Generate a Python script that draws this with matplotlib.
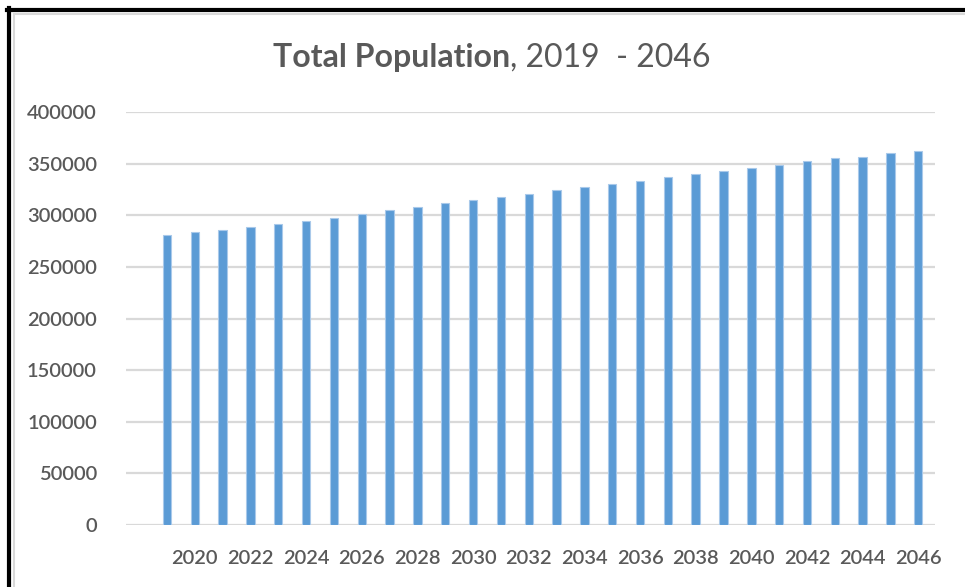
import matplotlib
matplotlib.use("Agg")
import matplotlib.pyplot as plt
from matplotlib.lines import Line2D

# total population by year
years = list(range(2019, 2047))
population = [280500, 283800, 285400, 288400, 291600, 294800, 297700, 300900,
              305500, 308400, 311600, 314500, 317700, 321000, 324000, 327200,
              330400, 333300, 336600, 339800, 342700, 345600, 348900, 352100,
              355000, 356600, 359900, 362600]
tick_years = list(range(2020, 2047, 2))
y_ticks = [0, 50000, 100000, 150000, 200000, 250000, 300000, 350000, 400000]

plt.rcParams['font.family'] = ['Lato', 'DejaVu Sans']
txt = '#595959'
grid = '#d9d9d9'

W, H = 965, 587
fig = plt.figure(figsize=(W / 100, H / 100), dpi=100)
ax = fig.add_axes([126 / W, (H - 525) / H, (935 - 126) / W, (525 - 112) / H])

pos = list(range(len(years)))
ax.bar(pos, population, width=0.3, color='#5b9bd5', edgecolor='#a9c9ea',
       linewidth=0.8, zorder=3)

ax.set_xlim(-1.47, 27.6)
ax.set_ylim(0, 400000)
ax.set_yticks(y_ticks)
ax.set_yticklabels([str(v) for v in y_ticks])
ax.set_xticks([years.index(y) for y in tick_years])
ax.set_xticklabels([str(y) for y in tick_years])

ax.grid(axis='y', color=grid, linewidth=1.6, zorder=0)
for s in ax.spines.values():
    s.set_visible(False)
ax.tick_params(axis='both', length=0, labelsize=14.5, labelcolor=txt)
ax.tick_params(axis='y', pad=21)
ax.tick_params(axis='x', pad=18)
for lab in ax.get_xticklabels() + ax.get_yticklabels():
    lab.set_fontweight('semibold')

# title: bold part plus plain part, centred as a whole
ty = 1 - 58 / H
t1 = fig.text(0, ty, 'Total Population', fontsize=23, fontweight='bold',
              color=txt, va='center', ha='left')
t2 = fig.text(0, ty, ', 2019  - 2046', fontsize=23, color=txt,
              va='center', ha='left')
fig.canvas.draw()
w1 = t1.get_window_extent().width
w2 = t2.get_window_extent().width
x0 = 492 - (w1 + w2) / 2
t1.set_x(x0 / W)
t2.set_x((x0 + w1) / W)

# outer frame
fig.add_artist(Line2D([7 / W, 1], [1 - 10 / H, 1 - 10 / H], color='black',
                      linewidth=3, transform=fig.transFigure))
fig.add_artist(Line2D([9 / W, 9 / W], [0, 1 - 8 / H], color='black',
                      linewidth=3, transform=fig.transFigure))
fig.add_artist(Line2D([14 / W, 1], [1 - 14 / H, 1 - 14 / H], color=grid,
                      linewidth=1.5, transform=fig.transFigure))
fig.add_artist(Line2D([14 / W, 14 / W], [0, 1 - 14 / H], color=grid,
                      linewidth=1.5, transform=fig.transFigure))

fig.savefig('out.png', dpi=100)
